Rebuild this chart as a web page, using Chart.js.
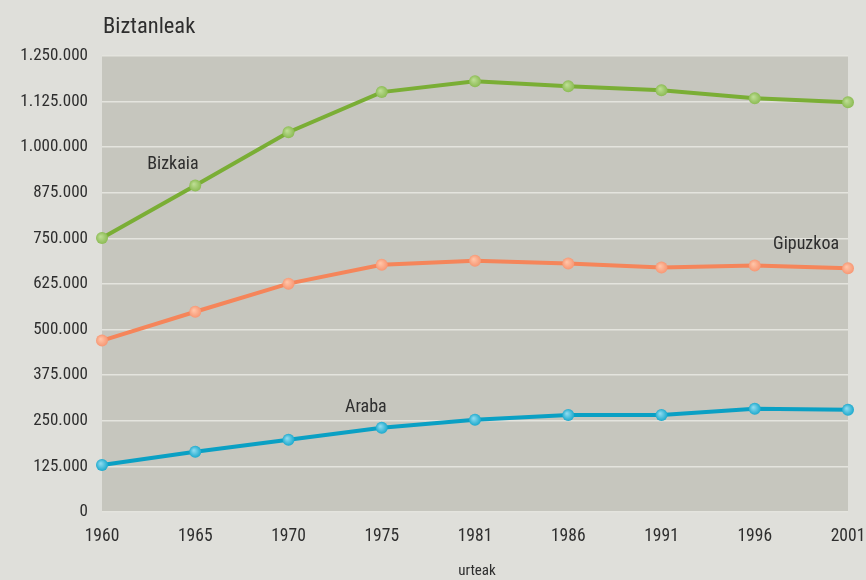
<!DOCTYPE html>
<html><head><meta charset="utf-8">
<script src="https://cdn.jsdelivr.net/npm/chart.js@4/dist/chart.umd.min.js"></script>
<style>html,body{margin:0;padding:0;background:#dfdfda;}#wrap{width:866px;height:580px;}</style>
</head><body><div id="wrap"><canvas id="c" width="866" height="580"></canvas></div>
<script>
const years = ['1960','1965','1970','1975','1981','1986','1991','1996','2001'];
const bizkaia = [751000, 895000, 1041000, 1151000, 1181000, 1167000, 1156000, 1134000, 1123000];
const gipuzkoa = [470000, 549000, 626000, 678000, 689000, 681000, 670000, 676000, 668000];
const araba = [129000, 165000, 198000, 231000, 253000, 266000, 266000, 283000, 280000];
const yTicks = [0,125000,250000,375000,500000,625000,750000,875000,1000000,1125000,1250000];
const seriesLabels = [
  {text:'Bizkaia', idx:0.76, val:952000},
  {text:'Gipuzkoa', idx:7.55, val:733000},
  {text:'Araba', idx:2.83, val:286000}
];
const FONT = "'Liberation Sans Narrow','Roboto Condensed',Roboto,sans-serif";

function fmt(v){return v.toString().replace(/\B(?=(\d{3})+(?!\d))/g,'.');}

function pointGrad(ctx, light, dark){
  return (c)=>{
    const el = c.element;
    if(!el || el.x===undefined) return light;
    const g = ctx.createRadialGradient(el.x-1.5, el.y-1.5, 0.5, el.x, el.y, 6.5);
    g.addColorStop(0, light); g.addColorStop(1, dark);
    return g;
  };
}

const bgPlugin = {
  id:'bg',
  beforeDraw(chart){
    const {ctx, chartArea:a} = chart;
    ctx.save();
    ctx.fillStyle = '#dfdfda';
    ctx.fillRect(0,0,chart.width,chart.height);
    ctx.fillStyle = '#c6c6be';
    ctx.fillRect(a.left, a.top, a.right-a.left, a.bottom-a.top);
    ctx.restore();
  },
  afterDraw(chart){
    const {ctx, scales} = chart;
    ctx.save();
    ctx.fillStyle = '#2e2e2e';
    ctx.font = "22.5px " + FONT;
    ctx.textBaseline = 'middle';
    ctx.textAlign = 'left';
    ctx.fillText('Biztanleak', 103, 27);
    ctx.font = "18px " + FONT;
    ctx.textAlign = 'center';
    seriesLabels.forEach(l=>{
      ctx.fillText(l.text, scales.x.getPixelForValue(l.idx), scales.y.getPixelForValue(l.val));
    });
    ctx.font = "15px " + FONT;
    ctx.fillText('urteak', 477, 571);
    ctx.restore();
  }
};

const ctx = document.getElementById('c').getContext('2d');
function ds(label, data, line, light, dark){
  return {label, data, borderColor: line, borderWidth: 4, tension: 0,
    pointRadius: 6, pointHoverRadius: 6, pointBorderWidth: 0,
    pointBackgroundColor: pointGrad(ctx, light, dark), clip: false};
}
new Chart(ctx, {
  type:'line',
  data:{labels: years, datasets:[
    ds('Bizkaia', bizkaia, '#7aae35', '#bcdc92', '#88b94f'),
    ds('Gipuzkoa', gipuzkoa, '#f5855a', '#ffc3a6', '#f79470'),
    ds('Araba', araba, '#0aa0c4', '#8ad9ee', '#14a6cb')
  ]},
  options:{
    responsive:false, animation:false, devicePixelRatio:1,
    layout:{padding:{top:56, right:18, left:0, bottom:0}},
    plugins:{legend:{display:false}, tooltip:{enabled:false}},
    scales:{
      x:{type:'category', offset:false,
        grid:{display:false, drawTicks:false},
        border:{display:false},
        ticks:{color:'#2e2e2e', font:{family:FONT, size:17.5}, padding:14, maxRotation:0, autoSkip:false},
        afterFit(s){ s.height = 68; s.paddingRight = 0; s.paddingLeft = 0; }
      },
      y:{min:0, max:1250000,
        afterBuildTicks(s){ s.ticks = yTicks.map(v=>({value:v})); },
        grid:{color:'#e4e4de', lineWidth:1.6, drawTicks:false},
        border:{display:false},
        ticks:{color:'#2e2e2e', font:{family:FONT, size:17}, padding:14, callback:(v)=>fmt(v)},
        afterFit(s){ s.width = 102; s.paddingTop = 0; s.paddingBottom = 0; }
      }
    }
  },
  plugins:[bgPlugin]
});
</script></body></html>
